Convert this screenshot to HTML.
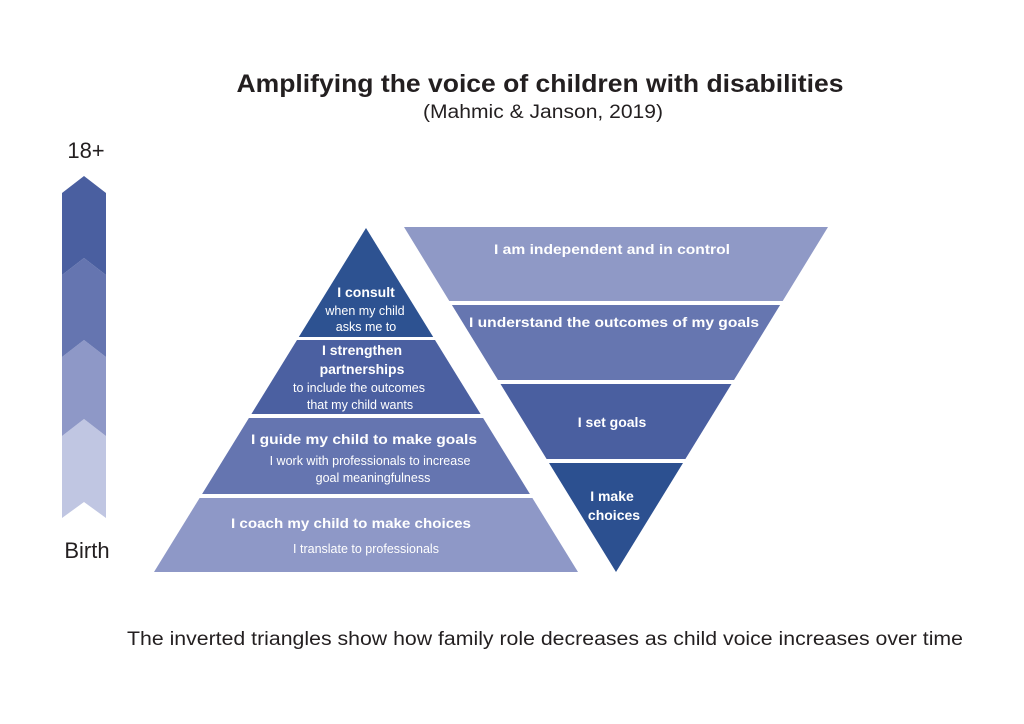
<!DOCTYPE html>
<html><head><meta charset="utf-8"><style>html,body{margin:0;padding:0;background:#fff}svg{display:block}</style></head>
<body>
<svg width="1024" height="724" viewBox="0 0 1024 724" xmlns="http://www.w3.org/2000/svg" font-family="Liberation Sans, sans-serif">
<rect width="1024" height="724" fill="#fff"/>
<text x="540" y="92" text-anchor="middle" font-size="25" font-weight="bold" fill="#231f20" textLength="607" lengthAdjust="spacingAndGlyphs">Amplifying the voice of children with disabilities</text>
<text x="543" y="118" text-anchor="middle" font-size="19" fill="#231f20" textLength="240" lengthAdjust="spacingAndGlyphs">(Mahmic &amp; Janson, 2019)</text>
<text x="86" y="158" text-anchor="middle" font-size="22" fill="#231f20">18+</text>
<text x="87" y="558" text-anchor="middle" font-size="22" fill="#231f20">Birth</text>
<!-- arrow -->
<polygon points="62,436 84,419 106,436 106,518 84,502 62,518" fill="#c0c6e2"/>
<polygon points="62,357 84,340 106,357 106,436 84,419 62,436" fill="#8e98c7"/>
<polygon points="62,275 84,258 106,275 106,357 84,340 62,357" fill="#6575b0"/>
<polygon points="62,193 84,176 106,193 106,275 84,258 62,275" fill="#4a5fa0"/>
<!-- left pyramid -->
<polygon points="366,228 433.2,337 298.8,337" fill="#2d5291"/>
<polygon points="297,340 435,340 480.6,414 251.4,414" fill="#4b60a1"/>
<polygon points="248.9,418 483.1,418 529.9,494 202.1,494" fill="#6575b0"/>
<polygon points="199.6,498 532.4,498 578,572 154,572" fill="#8e98c7"/>
<!-- right inverted -->
<polygon points="404,227 828,227 782.7,301 449.3,301" fill="#8f99c6"/>
<polygon points="451.9,305 780.1,305 734,380 498,380" fill="#6676b0"/>
<polygon points="500.5,384 731.5,384 685.4,459 546.6,459" fill="#4a5fa0"/>
<polygon points="549,463 683,463 616,572" fill="#2c5090"/>
<g fill="#fff" text-anchor="middle">
<text x="366" y="297" font-size="14" font-weight="bold">I consult</text>
<text x="365" y="315" font-size="12.5">when my child</text>
<text x="366" y="331" font-size="12.5">asks me to</text>
<text x="362" y="355" font-size="14" font-weight="bold">I strengthen</text>
<text x="362" y="374" font-size="14" font-weight="bold">partnerships</text>
<text x="359" y="392" font-size="12.5">to include the outcomes</text>
<text x="360" y="409" font-size="12.5">that my child wants</text>
<text x="364" y="444" font-size="14" font-weight="bold" textLength="226" lengthAdjust="spacingAndGlyphs">I guide my child to make goals</text>
<text x="370" y="465" font-size="12.5">I work with professionals to increase</text>
<text x="373" y="482" font-size="12.5">goal meaningfulness</text>
<text x="351" y="528" font-size="14" font-weight="bold" textLength="240" lengthAdjust="spacingAndGlyphs">I coach my child to make choices</text>
<text x="366" y="553" font-size="12.5">I translate to professionals</text>
<text x="612" y="254" font-size="14" font-weight="bold" textLength="236" lengthAdjust="spacingAndGlyphs">I am independent and in control</text>
<text x="614" y="327" font-size="14" font-weight="bold" textLength="290" lengthAdjust="spacingAndGlyphs">I understand the outcomes of my goals</text>
<text x="612" y="427" font-size="14" font-weight="bold">I set goals</text>
<text x="612" y="501" font-size="14" font-weight="bold">I make</text>
<text x="614" y="520" font-size="14" font-weight="bold">choices</text>
</g>
<text x="545" y="645" text-anchor="middle" font-size="19" fill="#231f20" textLength="836" lengthAdjust="spacingAndGlyphs">The inverted triangles show how family role decreases as child voice increases over time</text>
</svg>
</body></html>
